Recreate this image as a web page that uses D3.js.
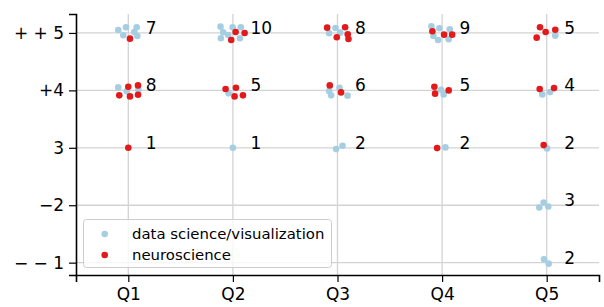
<!DOCTYPE html>
<html>
<head>
<meta charset="utf-8">
<script src="https://cdn.jsdelivr.net/npm/d3@7"></script>
<style>
  body { margin: 0; background: #fff; }
  text { font-family: "DejaVu Sans", sans-serif; fill: #000; }
</style>
</head>
<body>
<div id="chart"></div>
<script>
// categories
const questions = ["Q1", "Q2", "Q3", "Q4", "Q5"];
const levelValues = [1, 2, 3, 4, 5];
const levelLabels = ["\u2212 \u2212 1", "\u22122", "3", "+4", "+ + 5"];
const groups = ["data science/visualization", "neuroscience"];
const colors = ["#a6cee3", "#e31a1c"];

// answers: [question, level, jitterX, jitterY]
const dataScience = [
  [1, 5, -0.096, 0.052], [1, 5, -0.022, 0.099], [1, 5, -0.048, -0.040],
  [1, 5, 0.080, 0.099], [1, 5, 0.057, 0.017], [1, 5, 0.086, -0.052],
  [1, 4, -0.096, 0.052], [1, 4, -0.015, -0.017], [1, 4, 0.096, 0.012],
  [2, 5, -0.118, 0.110], [2, 5, -0.093, 0.012], [2, 5, -0.115, -0.092],
  [2, 5, -0.045, -0.035], [2, 5, -0.003, 0.099], [2, 5, 0.076, 0.099],
  [2, 5, 0.067, -0.092],
  [2, 4, -0.041, -0.052],
  [2, 3, 0.0, 0.0],
  [3, 5, -0.080, -0.005], [3, 5, -0.019, 0.087], [3, 5, 0.025, 0.005],
  [3, 4, -0.080, -0.012], [3, 4, -0.061, -0.087], [3, 4, 0.019, 0.047],
  [3, 4, 0.096, -0.092],
  [3, 3, -0.013, -0.023], [3, 3, 0.048, 0.035],
  [4, 5, -0.102, 0.117], [4, 5, -0.026, 0.082], [4, 5, 0.073, 0.064],
  [4, 5, -0.083, -0.052], [4, 5, -0.038, -0.122], [4, 5, 0.063, -0.110],
  [4, 4, -0.010, 0.012], [4, 4, 0.015, -0.070],
  [4, 3, 0.032, 0.007],
  [5, 5, 0.082, -0.047],
  [5, 4, -0.042, -0.070], [5, 4, 0.032, -0.030],
  [5, 3, 0.003, -0.010],
  [5, 2, -0.071, -0.040], [5, 2, -0.029, 0.047], [5, 2, 0.015, -0.023],
  [5, 1, -0.026, 0.059], [5, 1, 0.019, -0.017]
];

const neuroscience = [
  [1, 5, 0.016, -0.099],
  [1, 4, 0.0, 0.064], [1, 4, 0.093, 0.087], [1, 4, -0.086, -0.087],
  [1, 4, 0.016, -0.105], [1, 4, 0.093, -0.075],
  [1, 3, 0.0, 0.0],
  [2, 5, 0.026, 0.017], [2, 5, 0.112, 0.0], [2, 5, -0.016, -0.122],
  [2, 4, -0.070, 0.023], [2, 4, 0.029, 0.047], [2, 4, 0.016, -0.105],
  [2, 4, 0.096, -0.087],
  [3, 5, -0.099, 0.092], [3, 5, 0.073, 0.099], [3, 5, -0.007, -0.075],
  [3, 5, 0.098, -0.023], [3, 5, 0.105, -0.105],
  [3, 4, -0.074, 0.087], [3, 4, 0.034, -0.035],
  [4, 5, -0.093, 0.030], [4, 5, 0.019, -0.030], [4, 5, 0.096, -0.030],
  [4, 4, -0.074, 0.064], [4, 4, -0.067, -0.057], [4, 4, 0.063, 0.0],
  [4, 3, -0.048, -0.005],
  [5, 5, -0.064, 0.099], [5, 5, -0.010, 0.017], [5, 5, 0.082, 0.057],
  [5, 5, -0.096, -0.082],
  [5, 4, -0.067, 0.023], [5, 4, 0.070, 0.040],
  [5, 3, -0.029, 0.047]
];

const width = 604, height = 307;
const mLeft = 76, mRight = 599, mTop = 14, mBottom = 275;
const FONT = 17;

const svg = d3.select("#chart").append("svg")
  .attr("width", width)
  .attr("height", height)
  .style("display", "block");

const x = d3.scaleLinear().domain([0.5, 5.5]).range([mLeft, mRight]);
const y = d3.scaleLinear().domain([0.785, 5.33]).range([mBottom, mTop]);

// grid
const grid = svg.append("g").attr("stroke", "#d3d3d3").attr("stroke-width", 1.3);
grid.selectAll(".gx").data(questions).enter().append("line")
  .attr("x1", (d, i) => x(i + 1)).attr("x2", (d, i) => x(i + 1))
  .attr("y1", mTop).attr("y2", mBottom);
grid.selectAll(".gy").data(levelValues).enter().append("line")
  .attr("x1", mLeft).attr("x2", mRight)
  .attr("y1", d => y(d)).attr("y2", d => y(d));

// axes
const xAxis = d3.axisBottom(x)
  .tickValues([1, 2, 3, 4, 5])
  .tickFormat(d => questions[d - 1])
  .tickSizeOuter(0).tickSize(7).tickPadding(6);
const yAxis = d3.axisLeft(y)
  .tickValues(levelValues)
  .tickFormat(d => levelLabels[d - 1])
  .tickSizeOuter(0).tickSize(7).tickPadding(5);

const gx = svg.append("g").attr("transform", `translate(0,${mBottom})`).call(xAxis);
const gy = svg.append("g").attr("transform", `translate(${mLeft},0)`).call(yAxis);
[gx, gy].forEach(g => {
  g.select(".domain").attr("stroke", "#000").attr("stroke-width", 1.6);
  g.selectAll(".tick line").attr("stroke", "#000").attr("stroke-width", 1.2);
  g.selectAll(".tick text")
    .attr("font-family", "DejaVu Sans")
    .attr("font-size", FONT)
    .attr("fill", "#000");
});

// points
[dataScience, neuroscience].forEach((rows, gi) => {
  svg.append("g").selectAll("circle").data(rows).enter().append("circle")
    .attr("cx", d => x(d[0] + d[2]))
    .attr("cy", d => y(d[1] + d[3]))
    .attr("r", 3.3)
    .attr("fill", colors[gi]);
});

// counts per cluster
const counts = d3.rollups(dataScience.concat(neuroscience), v => v.length, d => d[0], d => d[1]);
const countRows = [];
counts.forEach(([q, byLevel]) => byLevel.forEach(([lv, n]) => countRows.push({ q, lv, n })));
svg.append("g").selectAll("text").data(countRows).enter().append("text")
  .attr("x", d => x(d.q) + 17.5)
  .attr("y", d => y(d.lv) + 1)
  .attr("font-size", FONT)
  .text(d => d.n);

// legend
const legend = svg.append("g");
legend.append("rect")
  .attr("x", 83.5).attr("y", 219.5)
  .attr("width", 248).attr("height", 48)
  .attr("rx", 3)
  .attr("fill", "#fff").attr("fill-opacity", 0.8)
  .attr("stroke", "#cccccc").attr("stroke-width", 1);
groups.forEach((name, i) => {
  const ly = 234 + i * 21;
  legend.append("circle")
    .attr("cx", 104.7).attr("cy", ly).attr("r", 3.3)
    .attr("fill", colors[i]);
  legend.append("text")
    .attr("x", 132).attr("y", ly + 5)
    .attr("font-size", 14.9)
    .text(name);
});
</script>
</body>
</html>
